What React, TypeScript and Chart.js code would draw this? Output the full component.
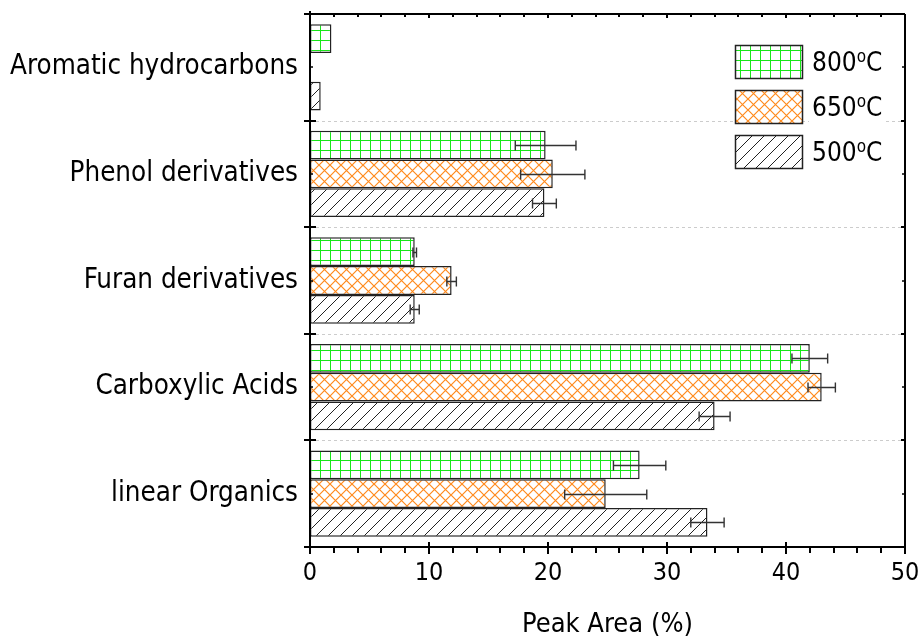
import { useEffect, useRef } from 'react';
import { Chart, registerables } from 'chart.js';

Chart.register(...registerables);

// Pyrolysis product classes (top to bottom)
const categories = [
  'Aromatic hydrocarbons',
  'Phenol derivatives',
  'Furan derivatives',
  'Carboxylic Acids',
  'linear Organics',
];

const seriesTemps = ['800', '650', '500'];

// Peak area (%) and its error for each temperature
const area800 = [1.8, 19.8, 8.8, 42.0, 27.7];
const err800 = [0, 2.55, 0.15, 1.5, 2.2];
const area650 = [null, 20.4, 11.9, 43.0, 24.85];
const err650 = [0, 2.7, 0.4, 1.15, 3.45];
const area500 = [0.9, 19.7, 8.8, 34.0, 33.4];
const err500 = [0, 1.0, 0.38, 1.3, 1.4];

const xTickValues = [0, 10, 20, 30, 40, 50];

const FONT = '"DejaVu Sans Condensed", "Liberation Sans", Arial, sans-serif';

function tile(size: number, paint: (c: CanvasRenderingContext2D) => void) {
  const cv = document.createElement('canvas');
  cv.width = size;
  cv.height = size;
  const c = cv.getContext('2d')!;
  c.fillStyle = '#ffffff';
  c.fillRect(0, 0, size, size);
  paint(c);
  return c.createPattern(cv, 'repeat')!;
}

function gridPattern() {
  return tile(10, (c) => {
    c.strokeStyle = '#19e619';
    c.lineWidth = 1;
    c.beginPath();
    c.moveTo(0.5, 0);
    c.lineTo(0.5, 10);
    c.moveTo(0, 0.5);
    c.lineTo(10, 0.5);
    c.stroke();
  });
}

function crossPattern() {
  const s = 11;
  return tile(s, (c) => {
    c.strokeStyle = '#ff8a1c';
    c.lineWidth = 1.2;
    c.beginPath();
    c.moveTo(-1, -1);
    c.lineTo(s + 1, s + 1);
    c.moveTo(-1, s + 1);
    c.lineTo(s + 1, -1);
    c.stroke();
  });
}

function hatchPattern() {
  const s = 12;
  return tile(s, (c) => {
    c.strokeStyle = '#222222';
    c.lineWidth = 1;
    c.beginPath();
    c.moveTo(-1, s + 1);
    c.lineTo(s + 1, -1);
    c.moveTo(-1, 1);
    c.lineTo(1, -1);
    c.moveTo(s - 1, s + 1);
    c.lineTo(s + 1, s - 1);
    c.stroke();
  });
}

const errorsBySeries = [err800, err650, err500];

const framePlugin = {
  id: 'frameAndExtras',
  beforeDatasetsDraw(chart: any) {
    const { ctx, chartArea: a, scales } = chart;
    const y = scales.y;
    ctx.save();
    ctx.strokeStyle = '#cccccc';
    ctx.lineWidth = 1;
    ctx.setLineDash([3, 3]);
    for (let i = 0; i < categories.length - 1; i++) {
      const yy = Math.round((y.getPixelForValue(i) + y.getPixelForValue(i + 1)) / 2) + 0.5;
      ctx.beginPath();
      ctx.moveTo(a.left, yy);
      ctx.lineTo(a.right, yy);
      ctx.stroke();
    }
    ctx.restore();
  },
  afterDatasetsDraw(chart: any) {
    const { ctx, chartArea: a, scales } = chart;
    const x = scales.x;
    const y = scales.y;

    // error bars
    ctx.save();
    ctx.strokeStyle = '#333333';
    ctx.lineWidth = 1.4;
    chart.data.datasets.forEach((ds: any, di: number) => {
      const meta = chart.getDatasetMeta(di);
      const errs = errorsBySeries[di];
      meta.data.forEach((bar: any, j: number) => {
        const v = ds.data[j];
        const e = errs[j];
        if (v == null || !e) return;
        const x0 = x.getPixelForValue(v - e);
        const x1 = x.getPixelForValue(v + e);
        const yy = Math.round(bar.y) + 0.5;
        ctx.beginPath();
        ctx.moveTo(x0, yy);
        ctx.lineTo(x1, yy);
        ctx.moveTo(x0, yy - 5);
        ctx.lineTo(x0, yy + 5);
        ctx.moveTo(x1, yy - 5);
        ctx.lineTo(x1, yy + 5);
        ctx.stroke();
      });
    });
    ctx.restore();

    // frame
    ctx.save();
    ctx.strokeStyle = '#000000';
    ctx.lineWidth = 2;
    ctx.beginPath();
    ctx.moveTo(a.left, a.top);
    ctx.lineTo(a.right, a.top);
    ctx.moveTo(a.right, a.top);
    ctx.lineTo(a.right, a.bottom);
    ctx.moveTo(a.left, a.top - 3);
    ctx.lineTo(a.left, a.bottom + 6);
    ctx.moveTo(a.left, a.bottom);
    ctx.lineTo(a.right + 1, a.bottom);
    ctx.stroke();

    // x ticks (bottom outward, top inward)
    for (let v = 0; v <= 50; v += 2) {
      const px = Math.round(x.getPixelForValue(v));
      const major = v % 10 === 0;
      ctx.lineWidth = 2;
      ctx.beginPath();
      if (major) {
        ctx.moveTo(px, a.bottom - 5);
        ctx.lineTo(px, a.bottom + 7);
      } else {
        ctx.moveTo(px, a.bottom);
        ctx.lineTo(px, a.bottom + 6);
      }
      ctx.moveTo(px, a.top);
      ctx.lineTo(px, a.top + (major ? 4 : 3));
      ctx.stroke();
    }

    // y ticks at category boundaries and centres
    const n = categories.length;
    for (let i = 0; i <= n; i++) {
      let yy: number;
      if (i === 0) yy = a.top;
      else if (i === n) yy = a.bottom;
      else yy = Math.round((y.getPixelForValue(i - 1) + y.getPixelForValue(i)) / 2);
      ctx.beginPath();
      ctx.moveTo(a.left - 6, yy);
      ctx.lineTo(a.left + 6, yy);
      ctx.moveTo(a.right - 4, yy);
      ctx.lineTo(a.right, yy);
      ctx.stroke();
    }
    ctx.lineWidth = 1.5;
    for (let i = 0; i < n; i++) {
      const yy = Math.round(y.getPixelForValue(i));
      ctx.beginPath();
      ctx.moveTo(a.left, yy);
      ctx.lineTo(a.left + 3, yy);
      ctx.moveTo(a.right - 3, yy);
      ctx.lineTo(a.right, yy);
      ctx.stroke();
    }
    ctx.restore();
  },
  afterDraw(chart: any) {
    const { ctx } = chart;
    const boxX = 735;
    const boxW = 67;
    const boxH = 33;
    const tops = [45, 90, 135];
    ctx.save();
    chart.data.datasets.forEach((ds: any, i: number) => {
      const top = tops[i];
      // white backing behind the text
      ctx.fillStyle = '#ffffff';
      ctx.fillRect(809, top, 76, boxH);
      ctx.fillStyle = ds.backgroundColor;
      ctx.fillRect(boxX, top, boxW, boxH);
      ctx.strokeStyle = '#222222';
      ctx.lineWidth = 1.5;
      ctx.strokeRect(boxX + 0.5, top + 0.5, boxW, boxH);

      const base = top + 26;
      ctx.fillStyle = '#000000';
      ctx.textBaseline = 'alphabetic';
      ctx.textAlign = 'left';
      ctx.font = `26px ${FONT}`;
      const num = seriesTemps[i];
      ctx.fillText(num, 812, base);
      const w1 = ctx.measureText(num).width;
      ctx.font = `17px ${FONT}`;
      ctx.fillText('o', 812 + w1, base - 9);
      const w2 = ctx.measureText('o').width;
      ctx.font = `26px ${FONT}`;
      ctx.fillText('C', 812 + w1 + w2, base);
    });
    ctx.restore();
  },
};

export default function App() {
  const ref = useRef<HTMLCanvasElement>(null);

  useEffect(() => {
    document.body.style.margin = '0';
    const canvas = ref.current;
    if (!canvas) return;

    const chart = new Chart(canvas, {
      type: 'bar',
      data: {
        labels: categories,
        datasets: [
          {
            label: '800°C',
            data: area800,
            backgroundColor: gridPattern(),
            borderColor: '#222222',
            borderWidth: 1.5,
            borderSkipped: false,
          },
          {
            label: '650°C',
            data: area650,
            backgroundColor: crossPattern(),
            borderColor: '#222222',
            borderWidth: 1.5,
            borderSkipped: false,
          },
          {
            label: '500°C',
            data: area500,
            backgroundColor: hatchPattern(),
            borderColor: '#222222',
            borderWidth: 1.5,
            borderSkipped: false,
          },
        ] as any,
      },
      options: {
        indexAxis: 'y',
        responsive: false,
        animation: false,
        devicePixelRatio: 1,
        layout: { padding: { top: 14, right: 16, left: 0, bottom: 0 } },
        datasets: {
          bar: { categoryPercentage: 0.81, barPercentage: 1 },
        },
        plugins: {
          legend: { display: false },
          tooltip: { enabled: false },
        },
        scales: {
          x: {
            type: 'linear',
            min: 0,
            max: 50,
            afterBuildTicks: (scale: any) => {
              scale.ticks = xTickValues.map((v) => ({ value: v }));
            },
            afterFit: (scale: any) => {
              scale.height = 90;
              scale.paddingLeft = 0;
              scale.paddingRight = 0;
            },
            grid: { display: false, drawTicks: false },
            border: { display: false },
            ticks: {
              color: '#000000',
              font: { family: FONT, size: 25 },
              padding: 11,
              maxRotation: 0,
            },
            title: {
              display: true,
              text: 'Peak Area (%)',
              color: '#000000',
              font: { family: FONT, size: 27, lineHeight: 1 },
              padding: { top: 0, bottom: -1 },
            },
          },
          y: {
            type: 'category',
            afterFit: (scale: any) => {
              scale.width = 310;
              scale.paddingTop = 0;
              scale.paddingBottom = 0;
            },
            grid: { display: false, drawTicks: false },
            border: { display: false },
            ticks: {
              color: '#000000',
              font: { family: FONT, size: 27.5 },
              padding: 12,
            },
          },
        },
      },
      plugins: [framePlugin],
    } as any);

    return () => chart.destroy();
  }, []);

  return <canvas ref={ref} width={921} height={637} style={{ display: 'block' }} />;
}
